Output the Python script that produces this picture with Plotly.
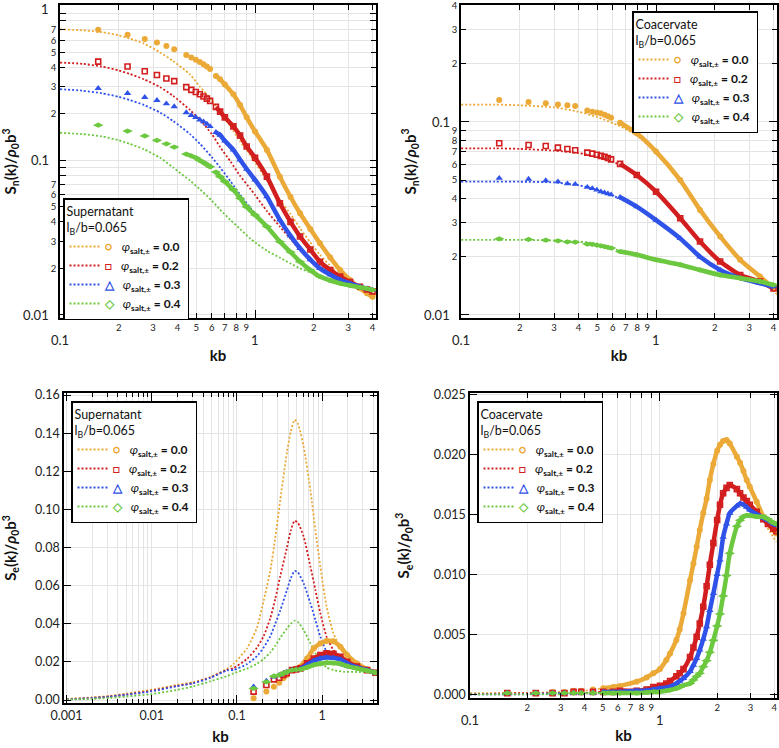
import math
import plotly.graph_objects as go

FONT = "Lato, 'Open Sans', sans-serif"
COLORS = ["#EBA937", "#D21E1E", "#2F52E8", "#6CC83F"]
SALT = ["0.0", "0.2", "0.3", "0.4"]
SYMBOLS = ["circle", "square-open", "triangle-up", "diamond-wide"]
GLYPHS = ["○", "□", "△", "◇"]

# ---------------- Panel 1: supernatant S_n(k) ----------------
K1_TH = [0.1, 0.13, 0.164, 0.2, 0.228, 0.27, 0.326, 0.38, 0.464, 0.522, 0.6, 0.662, 0.75,
         0.838, 0.95, 1.0, 1.15, 1.34, 1.52, 1.70, 2.0, 2.15, 2.5, 2.73, 3.1, 3.45, 4.2]
P1_TH_00 = [0.706, 0.695, 0.676, 0.645, 0.615, 0.57, 0.50, 0.44, 0.36, 0.30, 0.245, 0.205, 0.165,
            0.133, 0.107, 0.097, 0.074, 0.0555, 0.045, 0.0364, 0.0275, 0.0245, 0.020, 0.0178, 0.0158, 0.0149, 0.0135]
P1_TH_02 = [0.43, 0.422, 0.405, 0.382, 0.363, 0.335, 0.298, 0.262, 0.212, 0.183, 0.148, 0.122, 0.098,
            0.0795, 0.065, 0.0598, 0.047, 0.0373, 0.031, 0.0263, 0.022, 0.0206, 0.0182, 0.0169, 0.016, 0.0152, 0.0145]
P1_TH_03 = [0.289, 0.283, 0.272, 0.258, 0.246, 0.228, 0.204, 0.18, 0.148, 0.128, 0.105, 0.09, 0.073,
            0.06, 0.049, 0.0455, 0.037, 0.0302, 0.026, 0.0224, 0.019, 0.018, 0.0167, 0.016, 0.0153, 0.0149, 0.0145]
P1_TH_04 = [0.151, 0.148, 0.143, 0.135, 0.128, 0.118, 0.104, 0.09, 0.074, 0.065, 0.055, 0.048, 0.041,
            0.036, 0.031, 0.0295, 0.026, 0.0235, 0.0215, 0.020, 0.0185, 0.0178, 0.0168, 0.0162, 0.0155, 0.015, 0.0145]

K1_SIM = [0.157, 0.222, 0.272, 0.314, 0.351, 0.385, 0.444, 0.471, 0.497, 0.521, 0.544, 0.566, 0.588,
          0.63, 0.662, 0.70, 0.774, 0.838, 0.906, 1.0, 1.15, 1.34, 1.52, 1.70, 1.92, 2.15, 2.43,
          2.73, 3.07, 3.45, 3.75, 4.0]
P1_SIM_00 = [0.70, 0.65, 0.61, 0.58, 0.55, 0.525, 0.482, 0.463, 0.448, 0.434, 0.42, 0.405, 0.39,
             0.352, 0.335, 0.31, 0.268, 0.228, 0.19, 0.154, 0.117, 0.0785, 0.058, 0.0455, 0.036, 0.0291, 0.0235,
             0.0195, 0.0168, 0.0149, 0.0138, 0.0131]
P1_SIM_02 = [0.436, 0.405, 0.378, 0.357, 0.339, 0.326, 0.298, 0.286, 0.277, 0.268, 0.259, 0.251, 0.243,
             0.222, 0.207, 0.19, 0.166, 0.145, 0.123, 0.104, 0.0785, 0.0528, 0.040, 0.0322, 0.0265, 0.0221, 0.0195,
             0.0177, 0.0163, 0.0152, 0.0146, 0.0142]
P1_SIM_03 = [0.293, 0.272, 0.256, 0.245, 0.233, 0.223, 0.204, 0.196, 0.19, 0.183, 0.178, 0.172, 0.166,
             0.152, 0.146, 0.134, 0.117, 0.101, 0.088, 0.0748, 0.0583, 0.0412, 0.0325, 0.027, 0.0228, 0.020, 0.0182,
             0.0169, 0.016, 0.0152, 0.0148, 0.0145]
P1_SIM_04 = [0.169, 0.155, 0.144, 0.135, 0.128, 0.122, 0.110, 0.107, 0.104, 0.100, 0.097, 0.094, 0.091,
             0.084, 0.0785, 0.073, 0.0645, 0.057, 0.050, 0.0444, 0.0373, 0.0298, 0.0255, 0.0221, 0.0195, 0.0177, 0.0167,
             0.016, 0.0155, 0.0151, 0.0148, 0.0145]

# ---------------- Panel 2: coacervate S_n(k) ----------------
K2_TH = [0.1, 0.15, 0.2, 0.3, 0.4, 0.5, 0.654, 0.796, 1.0, 1.33, 1.68, 2.13, 2.70, 3.41, 4.2]
P2_TH_00 = [0.123, 0.123, 0.122, 0.119, 0.113, 0.106, 0.095, 0.085, 0.069, 0.049, 0.035, 0.0255, 0.0192, 0.0155, 0.0127]
P2_TH_02 = [0.073, 0.073, 0.0725, 0.071, 0.069, 0.066, 0.060, 0.0525, 0.043, 0.0315, 0.024, 0.0189, 0.016, 0.0148, 0.0136]
P2_TH_03 = [0.0491, 0.0491, 0.049, 0.0486, 0.047, 0.0445, 0.040, 0.036, 0.0308, 0.0248, 0.020, 0.017, 0.0155, 0.0146, 0.014]
P2_TH_04 = [0.0245, 0.0245, 0.0245, 0.0243, 0.024, 0.0233, 0.0215, 0.0205, 0.0193, 0.0182, 0.0171, 0.0161, 0.0155, 0.0149, 0.0143]

K2_SIM = [0.157, 0.222, 0.272, 0.314, 0.351, 0.385, 0.444, 0.471, 0.497, 0.521, 0.544, 0.566, 0.588,
          0.654, 0.796, 1.0, 1.33, 1.68, 2.13, 2.70, 3.41, 4.0]
P2_SIM_00 = [0.130, 0.127, 0.125, 0.123, 0.122, 0.121, 0.1145, 0.113, 0.112, 0.111, 0.109, 0.107, 0.105,
             0.099, 0.0873, 0.0702, 0.050, 0.035, 0.0255, 0.0193, 0.0158, 0.0137]
P2_SIM_02 = [0.0776, 0.076, 0.0751, 0.0736, 0.0724, 0.0713, 0.0693, 0.0685, 0.0676, 0.0667, 0.066, 0.065, 0.064,
             0.0606, 0.0531, 0.0435, 0.0317, 0.024, 0.0189, 0.0161, 0.0149, 0.0137]
P2_SIM_03 = [0.0511, 0.0506, 0.0497, 0.049, 0.0479, 0.0476, 0.0459, 0.0452, 0.0444, 0.0435, 0.043, 0.0425, 0.042,
             0.0407, 0.0364, 0.031, 0.0249, 0.020, 0.0171, 0.0155, 0.0146, 0.014]
P2_SIM_04 = [0.0248, 0.0246, 0.0244, 0.0242, 0.0239, 0.0238, 0.0233, 0.0232, 0.023, 0.0228, 0.0226, 0.0224, 0.0222,
             0.0213, 0.0205, 0.0193, 0.0182, 0.0171, 0.0161, 0.0155, 0.0149, 0.0143]

# ---------------- Panel 3: supernatant S_e(k) ----------------
K3_TH = [0.001, 0.002, 0.0032, 0.0051, 0.01, 0.0197, 0.031, 0.0486, 0.0762, 0.0914, 0.131, 0.172, 0.206,
         0.247, 0.282, 0.323, 0.387, 0.43, 0.476, 0.52, 0.608, 0.73, 0.835, 0.955, 1.13, 1.36, 1.8, 2.57, 4.3]
P3_TH_00 = [0.0005, 0.0014, 0.0021, 0.0034, 0.0054, 0.0079, 0.0094, 0.012, 0.0163, 0.019, 0.027, 0.038, 0.052,
            0.068, 0.085, 0.105, 0.130, 0.141, 0.147, 0.145, 0.133, 0.110, 0.089, 0.070, 0.049, 0.035, 0.0245, 0.0192, 0.0145]
P3_TH_02 = [0.0004, 0.0011, 0.0019, 0.003, 0.0049, 0.0074, 0.009, 0.0118, 0.0158, 0.0168, 0.0215, 0.0275, 0.0335,
            0.043, 0.053, 0.065, 0.080, 0.089, 0.094, 0.093, 0.0857, 0.070, 0.0577, 0.0455, 0.0332, 0.0262, 0.0201, 0.0175, 0.0152]
P3_TH_03 = [0.0003, 0.001, 0.0017, 0.0028, 0.0046, 0.0072, 0.0088, 0.0116, 0.0155, 0.0158, 0.0188, 0.023, 0.0275,
            0.0335, 0.040, 0.047, 0.0577, 0.064, 0.0677, 0.067, 0.0612, 0.0507, 0.042, 0.0332, 0.0253, 0.0201, 0.0175, 0.0161, 0.0148]
P3_TH_04 = [0.0002, 0.0006, 0.0011, 0.0019, 0.0031, 0.0053, 0.0072, 0.0098, 0.0125, 0.014, 0.0165, 0.019, 0.0215,
            0.025, 0.0285, 0.0326, 0.0376, 0.040, 0.0416, 0.041, 0.0367, 0.0297, 0.0245, 0.0201, 0.0171, 0.0157, 0.0148, 0.0147, 0.0146]

K3_SIM = [0.157, 0.222, 0.272, 0.314, 0.351, 0.385, 0.444, 0.497, 0.556, 0.667, 0.80, 0.955, 1.13, 1.36,
          1.64, 1.97, 2.57, 3.39, 4.24]
P3_SIM_00 = [0.0009, 0.0044, 0.007, 0.0091, 0.0114, 0.0131, 0.0157, 0.0165, 0.0175, 0.0218, 0.0271, 0.0297, 0.031,
             0.0308, 0.028, 0.0236, 0.0192, 0.0161, 0.0143]
P3_SIM_02 = [0.0044, 0.0079, 0.0108, 0.0117, 0.0131, 0.014, 0.0157, 0.016, 0.0166, 0.0192, 0.0218, 0.0236, 0.0245,
             0.0242, 0.0227, 0.0201, 0.0175, 0.0157, 0.0143]
P3_SIM_03 = [0.007, 0.010, 0.0122, 0.0131, 0.014, 0.0148, 0.0157, 0.016, 0.0163, 0.0184, 0.0206, 0.0218, 0.0223,
             0.0221, 0.0213, 0.0192, 0.0171, 0.0157, 0.0143]
P3_SIM_04 = [0.0061, 0.0095, 0.0125, 0.0131, 0.014, 0.0148, 0.0157, 0.016, 0.0161, 0.0171, 0.0184, 0.019, 0.0196,
             0.0194, 0.019, 0.0178, 0.0166, 0.0154, 0.0143]

# ---------------- Panel 4: coacervate S_e(k) ----------------
K4_TH = [0.1, 0.2, 0.3, 0.4, 0.5, 0.6, 0.75, 0.85, 1.0, 1.13, 1.27, 1.44, 1.56, 1.69, 1.83, 2.0, 2.15, 2.33,
         2.54, 2.75, 2.97, 3.23, 3.5, 3.8, 4.1]
P4_TH_00 = [0.0001, 0.0001, 0.0002, 0.0003, 0.0005, 0.0007, 0.001, 0.0014, 0.0021, 0.0034, 0.0054, 0.0095, 0.0123,
            0.0151, 0.0178, 0.0203, 0.0211, 0.0208, 0.0197, 0.0185, 0.0172, 0.0158, 0.0145, 0.0135, 0.0127]
P4_TH_02 = [0.0, 0.0001, 0.0001, 0.0001, 0.0002, 0.0002, 0.0003, 0.0004, 0.0007, 0.0011, 0.0017, 0.0031, 0.0048,
            0.0073, 0.0108, 0.0145, 0.0167, 0.0174, 0.017, 0.0163, 0.0157, 0.0151, 0.0145, 0.014, 0.0135]
P4_TH_03 = [0.0, 0.0, 0.0001, 0.0001, 0.0001, 0.0002, 0.0002, 0.0003, 0.0005, 0.0006, 0.001, 0.0019, 0.003,
            0.0046, 0.007, 0.010, 0.0131, 0.0151, 0.0157, 0.0158, 0.0153, 0.015, 0.0147, 0.0144, 0.0141]
P4_TH_04 = [0.0, 0.0, 0.0, 0.0001, 0.0001, 0.0001, 0.0001, 0.0002, 0.0002, 0.00035, 0.0006, 0.0009, 0.0015,
            0.0023, 0.0035, 0.0057, 0.0082, 0.0117, 0.014, 0.0148, 0.0149, 0.0148, 0.0148, 0.0145, 0.0142]

K4_SIM = [0.157, 0.222, 0.272, 0.314, 0.351, 0.385, 0.444, 0.503, 0.567, 0.615, 0.754, 0.851, 0.923, 1.0,
          1.08, 1.13, 1.22, 1.27, 1.33, 1.44, 1.50, 1.56, 1.62, 1.69, 1.76, 1.83, 1.91, 2.0, 2.07, 2.15, 2.24,
          2.33, 2.54, 2.64, 2.75, 2.86, 2.97, 3.23, 3.5, 3.7, 3.95, 4.1]
P4_SIM_00 = [0.0001, 0.0001, 0.0002, 0.0002, 0.0003, 0.0003, 0.0004, 0.0005, 0.0006, 0.0007, 0.00105, 0.0014,
             0.00175, 0.0021, 0.00286, 0.0034, 0.00453, 0.0054, 0.00675, 0.0095, 0.0109, 0.0123, 0.0137, 0.0151,
             0.0163, 0.01786, 0.0192, 0.0203, 0.0208, 0.0211, 0.0212, 0.0209, 0.0198, 0.0193, 0.0186, 0.01786,
             0.0173, 0.01605, 0.0148, 0.0142, 0.0137, 0.0134]
P4_SIM_02 = [0.0001, 0.0001, 0.0001, 0.0001, 0.0002, 0.0002, 0.0002, 0.0002, 0.0002, 0.0003, 0.0003, 0.0004,
             0.0006, 0.0007, 0.0009, 0.0011, 0.0015, 0.00175, 0.0021, 0.0031, 0.0039, 0.0048, 0.0059, 0.0073,
             0.009, 0.0108, 0.0126, 0.01452, 0.0158, 0.01675, 0.0172, 0.01744, 0.0171, 0.01675, 0.0164, 0.0161,
             0.0158, 0.0152, 0.0146, 0.0142, 0.0138, 0.0136]
P4_SIM_03 = [0.0001, 0.0001, 0.0001, 0.0001, 0.0001, 0.0001, 0.0001, 0.0002, 0.0002, 0.0002, 0.0003, 0.0003,
             0.0004, 0.0005, 0.00055, 0.00063, 0.0009, 0.0011, 0.00133, 0.0019, 0.00244, 0.003, 0.0037, 0.0046,
             0.00563, 0.007, 0.0084, 0.0100, 0.0112, 0.0131, 0.0142, 0.0151, 0.0157, 0.0159, 0.0158, 0.0156,
             0.01536, 0.015, 0.0147, 0.0145, 0.0142, 0.0141]
P4_SIM_04 = [0.0001, 0.0001, 0.0001, 0.0001, 0.0001, 0.0001, 0.0001, 0.0001, 0.0001, 0.0001, 0.0001, 0.00015,
             0.0002, 0.0002, 0.0003, 0.00035, 0.0005, 0.0006, 0.00075, 0.0009, 0.0012, 0.0015, 0.00175, 0.0023,
             0.0028, 0.0035, 0.0045, 0.0057, 0.0067, 0.0082, 0.0099, 0.01175, 0.0140, 0.0145, 0.0148, 0.0149,
             0.0149, 0.0148, 0.0148, 0.0146, 0.0143, 0.0142]

# ---------------- tick labels ----------------
# labelled minor digits (small) and unlabelled tick positions (decades etc.)
XLOG_TICKS = [0.2, 0.3, 0.4, 0.5, 0.6, 0.7, 0.8, 0.9, 2, 3, 4]
XLOG_TEXT = ["2", "3", "4", "5", "6", "7", "8", "9", "2", "3", "4"]
XLOG_PLAIN = [0.1, 1]
XLOG_MAJOR = [0.1, 1]
Y1_TICKS = [0.02, 0.03, 0.04, 0.05, 0.06, 0.07, 0.2, 0.3, 0.4, 0.5, 0.6, 0.7]
Y1_TEXT = ["2", "3", "4", "5", "6", "7", "2", "3", "4", "5", "6", "7"]
Y1_PLAIN = [0.01, 0.08, 0.09, 0.1, 0.8, 0.9, 1]
Y1_MAJOR = [0.01, 0.1, 1]
Y2_TICKS = [0.02, 0.03, 0.04, 0.05, 0.06, 0.07, 0.08, 0.09, 0.2, 0.3, 0.4]
Y2_TEXT = ["2", "3", "4", "5", "6", "7", "8", "9", "2", "3", "4"]
Y2_PLAIN = [0.01, 0.1]
Y2_MAJOR = [0.01, 0.1]
X3_TICKS = [0.001, 0.01, 0.1, 1]
X3_TEXT = ["0.001", "0.01", "0.1", "1"]
X3_MINOR = [m * 10 ** e for e in range(-3, 1) for m in range(2, 10) if m * 10 ** e < 4.5]
Y3_TICKS = [0.0, 0.02, 0.04, 0.06, 0.08, 0.10, 0.12, 0.14, 0.16]
Y4_TICKS = [0.0, 0.005, 0.010, 0.015, 0.020, 0.025]

GRID = "#e4e4e4"
DOT = "2px,2px"
MSIZE = [6, 5, 6.5, 7.5]

fig = go.Figure()


def entry_name(i):
    return (f'<span style="color:{COLORS[i]}"><b>{GLYPHS[i]}</b></span>&nbsp;&nbsp;&nbsp;'
            f'<i>φ</i><sub><b>salt,±</b></sub><b> = {SALT[i]}</b>')


def add_panel(n, k_th, th, k_sim, sim, band_from, legend_name):
    xa = "x" if n == 1 else f"x{n}"
    ya = "y" if n == 1 else f"y{n}"
    for i in range(4):
        fig.add_trace(go.Scatter(
            x=k_th, y=th[i], mode="lines", name=entry_name(i),
            line=dict(color=COLORS[i], dash=DOT, width=1.8, shape="spline", smoothing=0.6),
            xaxis=xa, yaxis=ya, legend=legend_name, showlegend=True, hoverinfo="skip"))
    for i in range(4):
        kb = [k for k in k_sim if k >= band_from]
        vb = [v for k, v in zip(k_sim, sim[i]) if k >= band_from]
        fig.add_trace(go.Scatter(
            x=kb, y=vb, mode="lines",
            line=dict(color=COLORS[i], width=4.5, shape="spline", smoothing=0.6),
            xaxis=xa, yaxis=ya, showlegend=False, hoverinfo="skip"))
        is_open = SYMBOLS[i].endswith("open")
        fig.add_trace(go.Scatter(
            x=k_sim, y=sim[i], mode="markers",
            marker=dict(symbol=SYMBOLS[i], size=MSIZE[i], color=COLORS[i],
                        line=dict(color=COLORS[i], width=1.6 if is_open else 0)),
            xaxis=xa, yaxis=ya, showlegend=False, hoverinfo="skip"))


add_panel(1, K1_TH, [P1_TH_00, P1_TH_02, P1_TH_03, P1_TH_04],
          K1_SIM, [P1_SIM_00, P1_SIM_02, P1_SIM_03, P1_SIM_04], 0.6, "legend")
add_panel(2, K2_TH, [P2_TH_00, P2_TH_02, P2_TH_03, P2_TH_04],
          K2_SIM, [P2_SIM_00, P2_SIM_02, P2_SIM_03, P2_SIM_04], 0.6, "legend2")
add_panel(3, K3_TH, [P3_TH_00, P3_TH_02, P3_TH_03, P3_TH_04],
          K3_SIM, [P3_SIM_00, P3_SIM_02, P3_SIM_03, P3_SIM_04], 0.5, "legend3")
add_panel(4, K4_TH, [P4_TH_00, P4_TH_02, P4_TH_03, P4_TH_04],
          K4_SIM, [P4_SIM_00, P4_SIM_02, P4_SIM_03, P4_SIM_04], 0.5, "legend4")

W, H = 779, 748


def px_x(a, b):
    return [a / W, b / W]


def px_y(top, bottom):
    return [1 - bottom / H, 1 - top / H]


def lx(a):
    return a / W


def ly(t):
    return 1 - t / H


def plain_ticks(vals, length=6):
    return dict(tickvals=vals, ticks="inside", ticklen=length, tickwidth=1, tickcolor="black",
                showgrid=True, gridcolor=GRID, gridwidth=1)


common = dict(showline=True, linecolor="black", linewidth=1.6, mirror="ticks",
              ticks="inside", ticklen=5, tickwidth=1, tickcolor="black",
              showgrid=True, gridcolor=GRID, gridwidth=1, zeroline=False, automargin=False,
              tickfont=dict(family=FONT, size=9.5, color="#222"))
xtitle = dict(text="<b>kb</b>", font=dict(family=FONT, size=15, color="#111"))
SN1 = "<b>S<sub>n</sub>(k)/<i>ρ</i><sub>0</sub>b<sup>3</sup></b>"
SE1 = "<b>S<sub>e</sub>(k)/<i>ρ</i><sub>0</sub>b<sup>3</sup></b>"

fig.update_layout(
    width=W, height=H, margin=dict(l=0, r=0, t=0, b=0, autoexpand=False),
    paper_bgcolor="white", plot_bgcolor="white",
    font=dict(family=FONT, color="#111"),
    xaxis=dict(common, type="log", range=[-1, 0.62], domain=px_x(60, 376), anchor="y",
               tickvals=XLOG_TICKS, ticktext=XLOG_TEXT, minor=plain_ticks(XLOG_PLAIN, 8),
               title=dict(xtitle, standoff=18)),
    yaxis=dict(common, type="log", range=[-2.02, 0.006], domain=px_y(5, 318), anchor="x",
               tickvals=Y1_TICKS, ticktext=Y1_TEXT, minor=plain_ticks(Y1_PLAIN),
               title=dict(text=SN1, font=dict(family=FONT, size=15), standoff=33)),
    xaxis2=dict(common, type="log", range=[-1, 0.62], domain=px_x(461, 777), anchor="y2",
                tickvals=XLOG_TICKS, ticktext=XLOG_TEXT, minor=plain_ticks(XLOG_PLAIN, 8),
                title=dict(xtitle, standoff=18)),
    yaxis2=dict(common, type="log", range=[-2.016, -0.394], domain=px_y(5, 318), anchor="x2",
                tickvals=Y2_TICKS, ticktext=Y2_TEXT, minor=plain_ticks(Y2_PLAIN, 8),
                title=dict(text=SN1, font=dict(family=FONT, size=15), standoff=32)),
    xaxis3=dict(common, type="log", range=[-3.03, 0.645], domain=px_x(64, 377), anchor="y3",
                tickvals=X3_TICKS, ticktext=X3_TEXT, ticklen=8, tickfont=dict(family=FONT, size=12.5, color="#222"),
                minor=plain_ticks(X3_MINOR, 4),
                title=dict(xtitle, standoff=10)),
    yaxis3=dict(common, range=[-0.00157, 0.16105], domain=px_y(393, 703), anchor="x3",
                tickvals=Y3_TICKS, tickformat=".2f", ticklen=7, tickfont=dict(family=FONT, size=12.5, color="#222"),
                title=dict(text=SE1, font=dict(family=FONT, size=15), standoff=19)),
    xaxis4=dict(common, type="log", range=[-1, 0.616], domain=px_x(470, 777), anchor="y4",
                tickvals=XLOG_TICKS, ticktext=XLOG_TEXT, minor=plain_ticks(XLOG_PLAIN, 8),
                title=dict(xtitle, standoff=18)),
    yaxis4=dict(common, range=[-0.00031, 0.02511], domain=px_y(393, 698), anchor="x4",
                tickvals=Y4_TICKS, tickformat=".3f", ticklen=7, tickfont=dict(family=FONT, size=12.5, color="#222"),
                title=dict(text=SE1, font=dict(family=FONT, size=15), standoff=20)),
)

leg_common = dict(bgcolor="white", bordercolor="black", borderwidth=1.5,
                  font=dict(family=FONT, size=12, color="#111"),
                  tracegroupgap=0, itemwidth=30, xanchor="left", yanchor="top")
SUP_TITLE = "Supernatant<br>l<sub>B</sub>/b=0.065"
COA_TITLE = "Coacervate<br>l<sub>B</sub>/b=0.065"
TFONT = dict(family=FONT, size=12.5)
fig.update_layout(
    legend=dict(leg_common, x=lx(63), y=ly(198), title=dict(text=SUP_TITLE, font=TFONT)),
    legend2=dict(leg_common, x=lx(632), y=ly(11), title=dict(text=COA_TITLE, font=TFONT)),
    legend3=dict(leg_common, x=lx(71), y=ly(401), title=dict(text=SUP_TITLE, font=TFONT)),
    legend4=dict(leg_common, x=lx(477), y=ly(401), title=dict(text=COA_TITLE, font=TFONT)),
)

# major tick labels of the log axes (larger, offset as in the original)
ann = []


def fmt(v):
    return f"{v:g}"


for xa, ya in [("x", "y"), ("x2", "y2"), ("x4", "y4")]:
    for v in XLOG_MAJOR:
        ann.append(dict(x=math.log10(v), xref=xa, y=0, yref=f"{ya} domain", yanchor="top", xanchor="center",
                        yshift=-12, text=fmt(v), showarrow=False, font=dict(family=FONT, size=13, color="#222")))
for xa, ya, majors in [("x", "y", Y1_MAJOR), ("x2", "y2", Y2_MAJOR)]:
    for v in majors:
        ann.append(dict(x=0, xref=f"{xa} domain", y=math.log10(v), yref=ya, xanchor="right", yanchor="middle",
                        xshift=-9, yshift=(-3 if v == max(majors) and v >= 1 else 0),
                        text=fmt(v), showarrow=False, font=dict(family=FONT, size=13, color="#222")))
fig.update_layout(annotations=ann)

# remove the browser's default 8px page margin so the figure fills the window exactly
fig.write_html("out.html", config={"displayModeBar": False},
               post_script="document.body.style.margin='0px';")
